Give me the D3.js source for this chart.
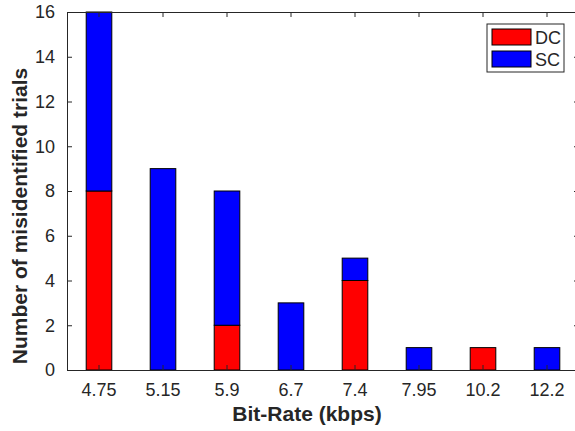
<!DOCTYPE html>
<html>
<head>
<meta charset="utf-8">
<title>Misidentified trials</title>
<script src="https://d3js.org/d3.v7.min.js"></script>
<style>
body { margin: 0; background: #fff; }
text { font-family: "Liberation Sans", Arial, sans-serif; fill: #262626; }
.axis path, .axis line { stroke: #262626; }
</style>
</head>
<body>
<div id="chart"></div>
<script>
// bit-rates on the x axis
var rates = ["4.75", "5.15", "5.9", "6.7", "7.4", "7.95", "10.2", "12.2"];
// stacked series, DC at bottom, SC on top
var dcValues = [8, 0, 2, 0, 4, 0, 1, 0];
var scValues = [8, 9, 6, 3, 1, 1, 0, 1];
var seriesNames = ["DC", "SC"];
var seriesColors = ["#ff0000", "#0000ff"];
var yTicks = [0, 2, 4, 6, 8, 10, 12, 14, 16];

var W = 575, H = 431;
var margin = {top: 12, left: 67, bottom: 61, right: -4};
var width = W - margin.left - margin.right,
    height = H - margin.top - margin.bottom;

var rows = rates.map(function(r, i) { return {rate: r, DC: dcValues[i], SC: scValues[i]}; });
var stacked = d3.stack().keys(seriesNames)(rows);

var x = d3.scaleBand().domain(rates).range([0, width]).paddingInner(0.6).paddingOuter(0.3);
var y = d3.scaleLinear().domain([0, 16]).range([height, 0]);

var svg = d3.select("#chart").append("svg")
    .attr("width", W).attr("height", H)
  .append("g")
    .attr("transform", "translate(" + margin.left + "," + margin.top + ")");

svg.selectAll(".series")
    .data(stacked)
  .enter().append("g")
    .attr("fill", function(d, i) { return seriesColors[i]; })
  .selectAll("rect")
    .data(function(d) { return d.filter(function(s) { return s[1] > s[0]; }); })
  .enter().append("rect")
    .attr("x", function(d) { return x(d.data.rate); })
    .attr("y", function(d) { return y(d[1]); })
    .attr("width", x.bandwidth())
    .attr("height", function(d) { return y(d[0]) - y(d[1]); })
    .attr("stroke", "#000")
    .attr("stroke-width", 1);

// box axes with ticks pointing in, like matlab
svg.append("g").attr("class", "axis")
    .attr("transform", "translate(0," + height + ")")
    .call(d3.axisBottom(x).tickSizeInner(-5).tickSizeOuter(0).tickPadding(13))
    .selectAll("text").style("font-size", "18px");

svg.append("g").attr("class", "axis")
    .call(d3.axisTop(x).tickSizeInner(-5).tickSizeOuter(0).tickFormat(""));

svg.append("g").attr("class", "axis")
    .call(d3.axisLeft(y).tickValues(yTicks).tickSizeInner(-5).tickSizeOuter(0).tickPadding(12))
    .selectAll("text").style("font-size", "18px");

svg.append("g").attr("class", "axis")
    .attr("transform", "translate(" + width + ",0)")
    .call(d3.axisRight(y).tickValues(yTicks).tickSizeInner(-5).tickSizeOuter(0).tickFormat(""));

svg.selectAll(".axis .domain").attr("stroke-width", 1);

svg.append("text")
    .attr("x", 240)
    .attr("y", height + 51)
    .attr("text-anchor", "middle")
    .style("font-size", "21px")
    .style("font-weight", "bold")
    .text("Bit-Rate (kbps)");

svg.append("text")
    .attr("transform", "rotate(-90)")
    .attr("x", -204)
    .attr("y", -40)
    .attr("text-anchor", "middle")
    .style("font-size", "21px")
    .style("font-weight", "bold")
    .text("Number of misidentified trials");

// legend
var legend = svg.append("g").attr("transform", "translate(420,12)");
legend.append("rect")
    .attr("width", 77).attr("height", 48)
    .attr("fill", "#fff").attr("stroke", "#262626");
seriesNames.forEach(function(name, i) {
  legend.append("rect")
      .attr("x", 5).attr("y", 5 + i * 22)
      .attr("width", 39).attr("height", 16)
      .attr("fill", seriesColors[i]).attr("stroke", "#000");
  legend.append("text")
      .attr("x", 48).attr("y", 20 + i * 22)
      .style("font-size", "18px")
      .text(name);
});
</script>
</body>
</html>
